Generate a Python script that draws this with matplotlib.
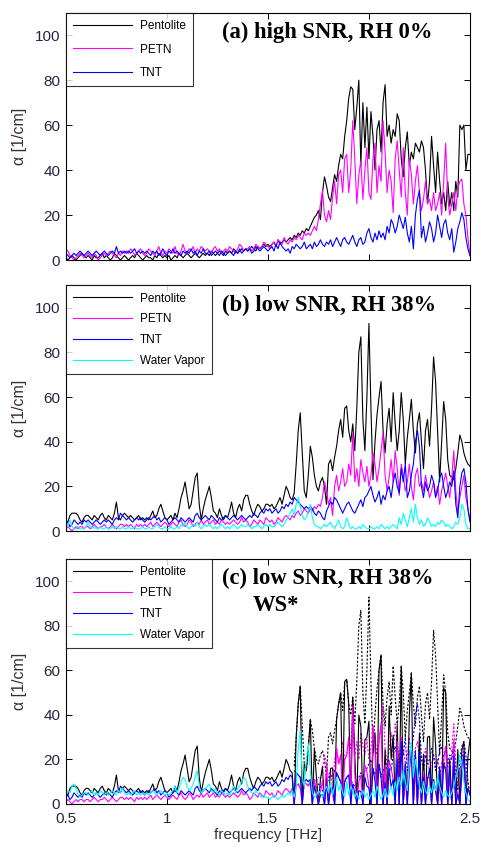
import numpy as np
import matplotlib
matplotlib.use("Agg")
from matplotlib import pyplot as plt

# frequency grid [THz], 0.01 THz step
freq = np.round(np.arange(0.5, 2.5001, 0.01), 2)

# (a) high SNR, RH 0%
pent_a = [1, 0, 1, 2, 1, 0, 1, 2, 3, 2,
          1, 2, 1, 0, 2, 1, 1, 2, 3, 1,
          2, 1, 0, 1, 3, 2, 1, 0, 1, 2,
          1, 0, 1, 2, 1, 3, 2, 1, 0, 1,
          2, 1, 1, 0, 2, 1, 3, 2, 1, 2,
          1, 2, 0, 1, 2, 1, 3, 2, 1, 2,
          3, 2, 1, 2, 3, 2, 1, 2, 3, 2,
          3, 2, 4, 3, 2, 3, 4, 3, 2, 4,
          3, 4, 3, 5, 4, 3, 4, 5, 4, 5,
          4, 5, 6, 5, 4, 6, 5, 6, 7, 6,
          7, 6, 7, 8, 6, 9, 7, 8, 9, 8,
          9, 10, 9, 11, 10, 12, 11, 13, 12, 14,
          13, 15, 17, 19, 20, 22, 18, 30, 37, 33,
          28, 26, 32, 38, 35, 42, 47, 45, 55, 62,
          72, 77, 76, 58, 68, 80, 42, 70, 50, 68,
          45, 66, 55, 40, 58, 62, 48, 70, 78, 55,
          60, 52, 58, 55, 65, 62, 45, 37, 50, 57,
          42, 48, 45, 52, 50, 48, 53, 50, 40, 25,
          35, 55, 42, 30, 48, 35, 25, 30, 22, 35,
          24, 30, 22, 35, 28, 60, 58, 60, 40, 47,
          47]
petn_a = [5, 4, 2, 1, 0, 1, 2, 3, 2, 1,
          2, 3, 2, 1, 3, 2, 0, 1, 2, 3,
          2, 3, 4, 3, 2, 1, 3, 2, 4, 3,
          4, 3, 5, 4, 2, 3, 4, 5, 3, 2,
          3, 5, 4, 3, 2, 4, 6, 3, 2, 4,
          3, 5, 4, 3, 6, 3, 2, 4, 7, 4,
          3, 5, 4, 6, 3, 5, 4, 6, 5, 4,
          5, 4, 3, 5, 6, 4, 5, 3, 4, 5,
          4, 6, 5, 4, 3, 5, 7, 6, 4, 5,
          5, 6, 4, 5, 7, 6, 5, 6, 8, 7,
          6, 5, 7, 8, 6, 9, 8, 7, 10, 8,
          7, 9, 8, 10, 9, 11, 10, 9, 12, 11,
          12, 11, 13, 15, 13, 18, 25, 31, 20, 17,
          22, 18, 28, 35, 25, 38, 40, 30, 45, 47,
          30, 40, 62, 45, 25, 38, 44, 27, 40, 50,
          30, 27, 45, 52, 30, 42, 35, 62, 48, 30,
          40, 35, 21, 45, 53, 40, 28, 50, 30, 20,
          45, 38, 25, 35, 42, 30, 22, 27, 35, 25,
          27, 22, 30, 22, 25, 30, 20, 35, 52, 28,
          20, 25, 30, 22, 32, 35, 36, 25, 20, 10,
          2]
tnt_a = [3, 2, 1, 2, 3, 2, 3, 4, 3, 2,
         3, 4, 3, 2, 3, 4, 3, 2, 3, 4,
         3, 2, 3, 4, 3, 6, 3, 4, 3, 4,
         3, 4, 3, 4, 5, 3, 4, 3, 4, 3,
         4, 3, 2, 4, 3, 4, 2, 3, 5, 3,
         2, 4, 3, 5, 3, 4, 3, 2, 4, 3,
         4, 3, 5, 3, 4, 2, 4, 3, 5, 3,
         3, 4, 2, 3, 4, 3, 2, 4, 3, 2,
         3, 4, 3, 2, 4, 3, 5, 3, 4, 5,
         4, 5, 3, 4, 6, 5, 4, 5, 6, 5,
         4, 5, 6, 4, 7, 5, 8, 6, 5, 4,
         5, 3, 6, 5, 7, 6, 5, 6, 8, 5,
         6, 7, 5, 8, 6, 7, 9, 7, 6, 8,
         7, 9, 6, 8, 10, 8, 6, 9, 10, 8,
         7, 9, 11, 8, 6, 9, 10, 7, 8, 12,
         14, 10, 8, 12, 9, 13, 10, 12, 9, 15,
         12, 18, 16, 12, 15, 20, 17, 14, 19, 12,
         8, 15, 5, 20, 27, 31, 10, 15, 8, 12,
         17, 14, 8, 12, 20, 15, 10, 16, 18, 12,
         9, 14, 3.5, 8, 14, 17, 21, 18, 10, 5,
         2]

# (b) low SNR, RH 38%
pent_b = [5, 4, 7, 8, 8, 8, 7, 5, 4, 6,
          7, 7, 6, 5, 7, 6, 5, 7, 8, 6,
          5, 7, 6, 5, 8, 13, 6, 5, 7, 8,
          7, 6, 7, 6, 5, 6, 7, 5, 6, 5,
          6, 5, 7, 9, 6, 7, 10, 12, 9, 6,
          5, 6, 7, 5, 8, 6, 10, 15, 18, 22,
          16, 10, 12, 18, 24, 26, 12, 5, 10, 14,
          17, 20, 15, 9, 8, 6, 10, 7, 5, 7,
          6, 9, 13, 8, 6, 10, 12, 9, 14, 16,
          16, 12, 9, 7, 10, 12, 11, 9, 10, 12,
          12, 11, 12, 10, 11, 13, 15, 12, 16, 20,
          18, 15, 14, 17, 30, 45, 53, 35, 18, 15,
          25, 38, 33, 25, 20, 18, 22, 24, 20, 12,
          30, 32, 27, 33, 38, 45, 50, 42, 55, 56,
          45, 40, 48, 36, 55, 80, 87, 50, 36, 60,
          93, 55, 23, 40, 52, 60, 67, 45, 35, 48,
          55, 40, 62, 48, 36, 45, 62, 50, 30, 42,
          50, 59, 45, 35, 48, 53, 40, 28, 45, 50,
          38, 55, 78, 67, 45, 22, 40, 58, 50, 32,
          25, 24, 23, 28, 35, 43, 40, 35, 32, 30,
          29]
petn_b = [1, 2, 1, 0, 1, 2, 1, 2, 2, 1,
          2, 2, 1, 2, 3, 2, 1, 2, 2, 3,
          2, 1, 2, 3, 2, 1, 2, 3, 3, 2,
          3, 2, 3, 2, 1, 3, 2, 3, 2, 3,
          2, 3, 4, 2, 3, 4, 3, 2, 3, 4,
          3, 2, 3, 4, 3, 2, 4, 5, 3, 2,
          3, 5, 4, 2, 3, 4, 3, 5, 3, 4,
          5, 3, 4, 5, 3, 4, 3, 5, 4, 3,
          4, 3, 4, 5, 4, 3, 4, 6, 4, 5,
          4, 2, 3, 5, 4, 3, 5, 4, 3, 6,
          5, 4, 5, 3, 4, 6, 5, 4, 6, 7,
          6, 5, 7, 6, 8, 9, 7, 8, 10, 9,
          8, 10, 9, 11, 10, 12, 11, 15, 22, 18,
          12, 15, 7, 20, 25, 18, 22, 28, 20, 22,
          30, 25, 44, 22, 28, 20, 32, 26, 22, 29,
          20, 25, 35, 30, 22, 28, 36, 44, 25, 18,
          24, 32, 22, 36, 28, 16, 30, 25, 18, 22,
          30, 20, 14, 25, 28, 20, 22, 18, 25, 20,
          15, 18, 22, 16, 20, 12, 18, 22, 26, 20,
          15, 24, 36, 18, 8, 15, 20, 25, 15, 10,
          5]
tnt_b = [3, 4, 2, 3, 5, 4, 3, 4, 3, 5,
         4, 5, 4, 3, 4, 5, 4, 3, 4, 5,
         4, 5, 4, 3, 5, 6, 5, 8, 7, 6,
         5, 6, 5, 4, 5, 6, 5, 6, 5, 4,
         5, 6, 5, 6, 7, 5, 6, 4, 5, 6,
         5, 3, 4, 5, 6, 5, 4, 6, 5, 4,
         5, 6, 5, 4, 7, 8, 6, 5, 6, 7,
         6, 5, 7, 6, 5, 4, 6, 5, 6, 7,
         6, 5, 6, 7, 6, 5, 6, 7, 6, 5,
         6, 7, 6, 8, 7, 6, 8, 9, 8, 10,
         9, 10, 8, 9, 10, 8, 9, 11, 10, 12,
         11, 13, 12, 15, 14, 13, 12, 11, 10, 11,
         10, 11, 10, 8, 7, 9, 8, 6, 5, 9,
         11, 13, 12, 15, 14, 12, 10, 8, 10, 12,
         13, 11, 9, 8, 10, 12, 14, 11, 15, 16,
         18, 20, 16, 13, 15, 18, 12, 16, 14, 18,
         20, 15, 22, 26, 20, 17, 28, 22, 30, 15,
         18, 25, 30, 40, 45, 38, 20, 15, 22, 18,
         20, 25, 22, 15, 18, 24, 26, 20, 15, 18,
         22, 20, 27, 12, 6, 20, 26, 28, 22, 10,
         4]
water_b = [1, 3, 5, 2, 1, 1, 2, 1, 1, 1,
           2, 4, 2, 1, 2, 1, 1, 2, 1, 1,
           2, 1, 1, 2, 1, 2, 1, 1, 2, 1,
           1, 2, 1, 1, 2, 1, 1, 1, 2, 1,
           1, 2, 1, 1, 2, 3, 2, 1, 1, 2,
           1, 1, 2, 1, 1, 2, 1, 3, 2, 4,
           2, 1, 2, 3, 2, 4, 2, 1, 2, 3,
           2, 3, 2, 1, 2, 1, 2, 3, 2, 1,
           2, 1, 2, 3, 2, 1, 2, 3, 2, 2,
           3, 2, 1, 2, 2, 3, 2, 1, 2, 3,
           2, 3, 2, 2, 3, 4, 3, 2, 3, 5,
           6, 8, 10, 7, 12, 15, 11, 7, 5, 6,
           9, 12, 6, 3, 2, 2, 1, 2, 3, 2,
           3, 4, 2, 1, 3, 5, 2, 1, 2, 6,
           3, 1, 2, 1, 1, 2, 1, 3, 2, 1,
           1, 2, 1, 1, 2, 1, 3, 2, 1, 2,
           1, 2, 3, 2, 1, 6, 3, 8, 5, 2,
           6, 10, 4, 12, 6, 3, 5, 2, 3, 6,
           4, 2, 3, 2, 4, 3, 5, 4, 2, 3,
           2, 1, 2, 4, 3, 6, 12, 10, 3, 1,
           1]

# (c) low SNR, RH 38%, WS*
water_c = [4, 6, 5, 8, 9, 7, 4, 3, 4, 5,
           5, 4, 5, 6, 4, 5, 4, 6, 5, 4,
           5, 4, 5, 6, 5, 4, 6, 5, 7, 5,
           4, 5, 4, 5, 6, 4, 5, 4, 5, 4,
           5, 4, 5, 6, 5, 4, 5, 6, 5, 4,
           5, 4, 5, 6, 8, 5, 7, 10, 12, 11,
           8, 6, 7, 9, 12, 15, 8, 5, 6, 7,
           8, 9, 6, 5, 7, 5, 4, 6, 5, 4,
           5, 4, 6, 8, 5, 7, 8, 10, 12, 11,
           8, 6, 5, 4, 6, 5, 4, 3, 4, 3,
           3, 2, 3, 4, 3, 2, 3, 4, 3, 4,
           5, 4, 6, 3, 8, 25, 33, 12, 8, 20,
           27, 15, 5, 3, 4, 6, 5, 3, 6, 8,
           5, 10, 4, 8, 12, 6, 9, 5, 3, 10,
           4, 8, 6, 3, 5, 2, 4, 6, 3, 5,
           2, 4, 6, 3, 8, 5, 2, 4, 7, 3,
           5, 8, 4, 10, 6, 12, 8, 15, 10, 6,
           18, 28, 12, 20, 15, 8, 5, 10, 6, 4,
           8, 5, 10, 6, 12, 8, 5, 3, 6, 4,
           3, 5, 8, 12, 15, 22, 18, 10, 5, 2,
           1]
# water-line suppression weights applied to the (b) spectra
ws_start = 1.63
ws_weight = [1.0] * 113 + [
    0, 1, 1, 1, 0, 1, 1,
    1, 1, 0, 1, 0.6, 0, 0.5, 0.7, 0, 1,
    0, 0.5, 0.6, 0, 1, 1, 1, 0, 1, 1,
    1, 0, 1, 0.6, 0, 0.5, 0.4, 0, 0.8, 0.5,
    0.4, 0, 1, 0.8, 0, 1, 1, 0, 0.7, 0,
    0.8, 0.5, 0.5, 0, 1, 0, 1, 0, 0.6, 0,
    0.8, 1, 0, 0.6, 0, 0.6, 0, 0.8, 0, 0.6,
    0.8, 0, 0.5, 0.4, 0, 0.7, 0, 0.9, 1, 0,
    0.8, 0, 0.8, 0, 0.7, 0, 0.6, 0.8, 0, 0.7,
    1]

labels = ["Pentolite", "PETN", "TNT", "Water Vapor"]
colors = ["black", "#ff00ff", "#0000ff", "#00ffff"]
titles = ["(a) high SNR, RH 0%", "(b) low SNR, RH 38%", "(c) low SNR, RH 38%"]

plt.rcParams["font.family"] = ["Liberation Sans", "DejaVu Sans"]
fig = plt.figure(figsize=(4.81, 8.47), dpi=100)
tick_col = "#262640"

boxes = [[0.137, 0.693, 0.840, 0.292],
         [0.137, 0.373, 0.840, 0.290],
         [0.137, 0.0508, 0.840, 0.289]]
axes = [fig.add_axes(b) for b in boxes]

lw = 0.8
w = np.array(ws_weight)
ws_mask = freq >= ws_start

# panel a
ax = axes[0]
for y, c, l in zip([pent_a, petn_a, tnt_a], colors, labels):
    ax.plot(freq, y, color=c, lw=lw, label=l)

# panel b
ax = axes[1]
for y, c, l in zip([pent_b, petn_b, tnt_b, water_b], colors, labels):
    ax.plot(freq, y, color=c, lw=lw, label=l)

# panel c: dashed = unweighted, solid = weighted
ax = axes[2]
for y, c, l in zip([pent_b, petn_b, tnt_b], colors, labels):
    ax.plot(freq[ws_mask], np.array(y, float)[ws_mask], color=c, lw=lw,
            ls=(0, (2, 1.5)))
for y, c, l in zip([pent_b, petn_b, tnt_b], colors, labels):
    ax.plot(freq, np.array(y, float) * w, color=c, lw=lw, label=l)
ax.plot(freq, water_c, color=colors[3], lw=lw, label=labels[3])

for i, ax in enumerate(axes):
    ax.set_xlim(0.5, 2.5)
    ax.set_ylim(0, 110)
    ax.set_xticks([0.5, 1, 1.5, 2, 2.5])
    ax.set_yticks([0, 20, 40, 60, 80, 100])
    ax.tick_params(direction="in", top=True, right=True, length=4,
                   width=0.7, labelsize=11, labelcolor=tick_col, pad=4)
    ax.tick_params(axis="x", pad=6)
    if i < 2:
        ax.set_xticklabels([])
    else:
        ax.set_xticklabels(["0.5", "1", "1.5", "2", "2.5"])
    for s in ax.spines.values():
        s.set_linewidth(0.8)
    ax.set_ylabel("α [1/cm]", fontsize=11.5, color="#3a2e30", labelpad=6)
    spacing = 1.0 if i == 0 else 0.75
    leg = ax.legend(loc="upper left", fontsize=8.5, frameon=True, fancybox=False,
                    edgecolor="black", borderaxespad=0, handlelength=5.0,
                    handletextpad=0.7, labelspacing=spacing, borderpad=0.6)
    leg.get_frame().set_linewidth(0.8)
    ax.text(0.386, 0.92, titles[i], transform=ax.transAxes, ha="left",
            va="center", fontsize=16.3, fontweight="bold",
            family="Liberation Serif")

axes[2].text(0.463, 0.81, "WS*", transform=axes[2].transAxes, ha="left",
             va="center", fontsize=16.3, fontweight="bold",
             family="Liberation Serif")
axes[2].set_xlabel("frequency [THz]", fontsize=11, color="#333333", labelpad=1)

fig.savefig("out.png", dpi=100)
